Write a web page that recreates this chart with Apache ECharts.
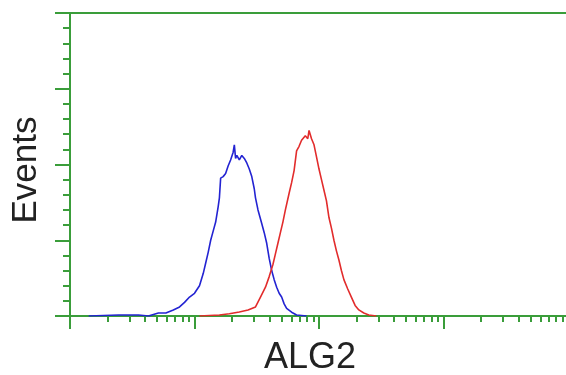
<!DOCTYPE html>
<html>
<head>
<meta charset="utf-8">
<script src="https://cdn.jsdelivr.net/npm/echarts@6/dist/echarts.min.js"></script>
<style>
    html, body { margin: 0; padding: 0; background: #fff; }
    #chart { width: 566px; height: 375px; }
</style>
</head>
<body>
<div id="chart"></div>
<script>
// fluorescence in decades (log10), counts per channel
const blueDecade = [0.15, 0.39, 0.55, 0.63, 0.71, 0.77, 0.83, 0.88, 0.92, 0.96, 1.00, 1.04, 1.07, 1.09, 1.11, 1.13, 1.15, 1.17, 1.19, 1.20, 1.21, 1.23, 1.25, 1.27, 1.29, 1.31, 1.32, 1.33, 1.34, 1.36, 1.38, 1.40, 1.42, 1.44, 1.46, 1.48, 1.49, 1.51, 1.54, 1.56, 1.58, 1.60, 1.62, 1.64, 1.66, 1.68, 1.70, 1.72, 1.74, 1.78, 1.82, 1.90];
const blueCount  = [0, 0.7, 0.7, 0, 2, 2, 4, 6, 9, 12.5, 15, 20, 28, 35, 42, 50, 56, 62, 72, 78, 91, 92, 94, 99, 103, 108, 113, 104, 106, 103, 106, 104, 101, 97, 92, 84, 78, 70, 61, 55, 48, 38, 30, 24, 19, 15, 12.5, 8, 5, 2.5, 0.7, 0];

const redDecade = [1.04, 1.20, 1.28, 1.36, 1.43, 1.49, 1.53, 1.57, 1.60, 1.63, 1.65, 1.67, 1.69, 1.71, 1.73, 1.76, 1.78, 1.80, 1.82, 1.84, 1.86, 1.89, 1.91, 1.92, 1.94, 1.96, 1.98, 2.00, 2.02, 2.04, 2.06, 2.08, 2.10, 2.12, 2.14, 2.16, 2.18, 2.20, 2.23, 2.26, 2.29, 2.32, 2.36, 2.40, 2.46];
const redCount  = [0, 0.7, 1.5, 2.6, 4, 6, 12.5, 19, 26, 34, 41, 48, 55, 62, 70, 81, 88, 96, 109, 112, 116, 119, 117, 122.5, 117, 113, 105, 97, 90, 83, 76, 65, 58, 50, 43, 37, 30, 24, 18, 12.5, 7, 4, 2, 0.7, 0];

const majorDecades = [0, 1, 2, 3];
const minorDecades = [];
majorDecades.forEach(d => {
    for (let k = 2; k <= 9; k++) minorDecades.push(d + Math.log10(k));
});

const countTicks = { min: 0, max: 200, interval: 50 };

const green = '#3a9d3a';
const xMax = 3.984;
const labelFont = '35px "Liberation Sans", Arial, sans-serif';

const toPairs = (xs, ys) => xs.map((x, i) => [x, ys[i]]);

const chart = echarts.init(document.getElementById('chart'));

const option = {
    animation: false,
    backgroundColor: '#fff',
    grid: { left: 70, right: 0, top: 13, bottom: 59 },
    xAxis: [
        {
            type: 'value', position: 'bottom', min: 0, max: xMax,
            axisLine: { show: true, onZero: false, lineStyle: { color: green, width: 2 } },
            axisTick: { show: true, customValues: majorDecades, length: 13, lineStyle: { color: green, width: 2 } },
            axisLabel: { show: false },
            splitLine: { show: false },
        },
        {
            type: 'value', position: 'bottom', min: 0, max: xMax,
            axisLine: { show: false, onZero: false },
            axisTick: { show: true, customValues: minorDecades, length: 6, lineStyle: { color: green, width: 2 } },
            axisLabel: { show: false },
            splitLine: { show: false },
        },
        {
            type: 'value', position: 'top', min: 0, max: xMax,
            axisLine: { show: true, onZero: false, lineStyle: { color: green, width: 2 } },
            axisTick: { show: false },
            axisLabel: { show: false },
            splitLine: { show: false },
        },
    ],
    yAxis: {
        type: 'value',
        min: countTicks.min, max: countTicks.max, interval: countTicks.interval,
        axisLine: { show: true, lineStyle: { color: green, width: 2 } },
        axisTick: { show: true, length: 15, lineStyle: { color: green, width: 2 } },
        minorTick: { show: true, splitNumber: 5, length: 7, lineStyle: { color: green, width: 2 } },
        axisLabel: { show: false },
        splitLine: { show: false },
    },
    graphic: [
        {
            type: 'text', x: 26, y: 170, rotation: Math.PI / 2,
            style: { text: 'Events', font: labelFont, fill: '#222', textAlign: 'center', textVerticalAlign: 'middle' },
        },
        {
            type: 'text', x: 310, y: 358,
            style: { text: 'ALG2', font: '36px "Liberation Sans", Arial, sans-serif', fill: '#222', textAlign: 'center', textVerticalAlign: 'middle' },
        },
    ],
    series: [
        {
            type: 'line', xAxisIndex: 0, data: toPairs(blueDecade, blueCount),
            showSymbol: false, lineStyle: { color: '#2323d2', width: 1.6 }, z: 3,
        },
        {
            type: 'line', xAxisIndex: 0, data: toPairs(redDecade, redCount),
            showSymbol: false, lineStyle: { color: '#e22c2c', width: 1.6 }, z: 3,
        },
    ],
};

chart.setOption(option);
</script>
</body>
</html>
